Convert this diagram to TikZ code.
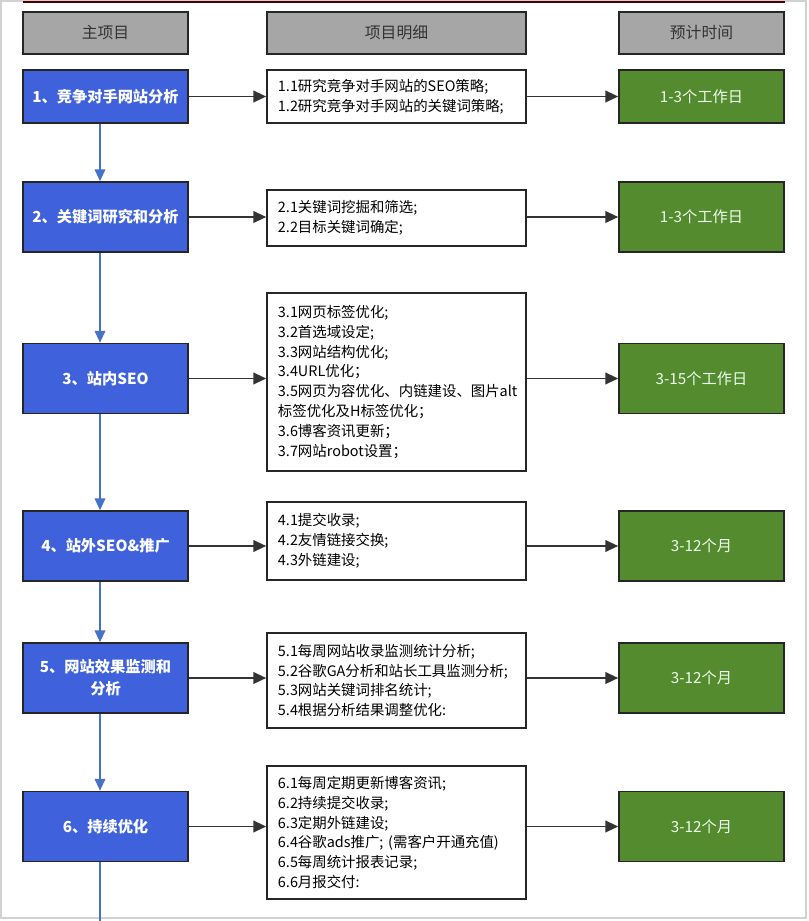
\documentclass[tikz,border=0pt]{standalone}
\usepackage{fontspec}
\setmainfont{Noto Sans CJK SC}
\usepackage{tikz}
\usetikzlibrary{
    arrows.meta,
    calc,
    positioning
}
\definecolor{headgray}{HTML}{A6A6A6}
\definecolor{stepblue}{HTML}{3F62DC}
\definecolor{timegreen}{HTML}{558B2F}
\definecolor{flowblue}{HTML}{4472C4}
\tikzset{
    box/.style={draw=black!85, line width=1.4pt, inner sep=0pt, align=center},
    head/.style={box, fill=headgray, text=black!80, minimum height=1.26cm, font=\fontsize{13.5}{16}\selectfont},
    main/.style={box, fill=stepblue, text=white, minimum width=4.95cm, minimum height=2.1cm, font=\fontsize{13}{19}\selectfont\bfseries},
    detail/.style={box, fill=white, align=left, text width=7.11cm, inner xsep=0.33cm, font=\fontsize{12.3}{17}\selectfont},
    span/.style={box, fill=timegreen, text=white!93!green, minimum width=4.95cm, minimum height=2.1cm, font=\fontsize{13}{16}\selectfont},
    flow/.style={flowblue, line width=1.4pt, -{Triangle[length=10pt,width=9pt]}},
    link/.style={black!80, line width=1.5pt, -{Triangle[length=11pt,width=10pt]}}
}

\begin{document}
\begin{tikzpicture}[x=0.03cm, y=-0.03cm]
                        \useasboundingbox (0, 0) rectangle (808, 921);
                        \draw[gray!35, line width=1pt] (1, 1) rectangle (806, 918);
                        \draw[red!30!black, line width=1.2pt] (23, 2) -- (785, 2);
                        \node[head, minimum width=4.95cm] (h1) at (105.5, 33) {主项目};
                        \node[head, minimum width=7.77cm] (h2) at (396.5, 33) {项目明细};
                        \node[head, minimum width=4.95cm] (h3) at (701.5, 33) {预计时间};
                        \node[main, minimum height=1.59cm] (m1) at (105.5, 96.5) {1、竞争对手网站分析};
                        \node[main] (m2) at (105.5, 217) {2、关键词研究和分析};
                        \node[main] (m3) at (105.5, 378.5) {3、站内SEO};
                        \node[main] (m4) at (105.5, 546) {4、站外SEO\&推广};
                        \node[main] (m5) at (105.5, 678) {5、网站效果监测和\\分析};
                        \node[main] (m6) at (105.5, 826.5) {6、持续优化};
                        \node[detail, minimum height=1.59cm] (d1) at (396.5, 96.5) {1.1研究竞争对手网站的SEO策略;\\1.2研究竞争对手网站的关键词策略;};
                        \node[detail, minimum height=1.68cm] (d2) at (396.5, 218) {2.1关键词挖掘和筛选;\\2.2目标关键词确定;};
                        \node[detail, minimum height=5.34cm] (d3) at (396.5, 382) {3.1网页标签优化;\\3.2首选域设定;\\3.3网站结构优化;\\3.4URL优化；\\3.5网页为容优化、内链建设、图片alt\\标签优化及H标签优化；\\3.6博客资讯更新；\\3.7网站robot设置；};
                        \node[detail, minimum height=2.34cm] (d4) at (396.5, 541) {4.1提交收录;\\4.2友情链接交换;\\4.3外链建设;};
                        \node[detail, minimum height=2.85cm] (d5) at (396.5, 680.5) {5.1每周网站收录监测统计分析;\\5.2谷歌GA分析和站长工具监测分析;\\5.3网站关键词排名统计;\\5.4根据分析结果调整优化:};
                        \node[detail, minimum height=3.99cm] (d6) at (396.5, 832.5) {6.1每周定期更新博客资讯;\\6.2持续提交收录;\\6.3定期外链建设;\\6.4谷歌ads推广; (需客户开通充值)\\6.5每周统计报表记录;\\6.6月报交付:};
                        \node[span, minimum height=1.59cm] (t1) at (701.5, 96.5) {1-3个工作日};
                        \node[span] (t2) at (701.5, 217) {1-3个工作日};
                        \node[span] (t3) at (701.5, 378.5) {3-15个工作日};
                        \node[span] (t4) at (701.5, 546) {3-12个月};
                        \node[span] (t5) at (701.5, 678) {3-12个月};
                        \node[span] (t6) at (701.5, 826.5) {3-12个月};
                        \coordinate (tail) at (100, 921);
                        \draw
                        (m1.south -| tail) edge[flow] (m2.north -| tail)
                        (m2.south -| tail) edge[flow] (m3.north -| tail)
                        (m3.south -| tail) edge[flow] (m4.north -| tail)
                        (m4.south -| tail) edge[flow] (m5.north -| tail)
                        (m5.south -| tail) edge[flow] (m6.north -| tail)
                        (m6.south -| tail) edge[flowblue, line width=1.4pt] (tail);
                        \draw
                        (m1.east) edge[link] (m1.east -| d1.west)
                        (m2.east) edge[link] (m2.east -| d2.west)
                        (m3.east) edge[link] (m3.east -| d3.west)
                        (m4.east) edge[link] (m4.east -| d4.west)
                        (m5.east) edge[link] (m5.east -| d5.west)
                        (m6.east) edge[link] (m6.east -| d6.west)
                        (t1.west -| d1.east) edge[link] (t1.west)
                        (t2.west -| d2.east) edge[link] (t2.west)
                        (t3.west -| d3.east) edge[link] (t3.west)
                        (t4.west -| d4.east) edge[link] (t4.west)
                        (t5.west -| d5.east) edge[link] (t5.west)
                        (t6.west -| d6.east) edge[link] (t6.west);
                    \end{tikzpicture}
\end{document}
